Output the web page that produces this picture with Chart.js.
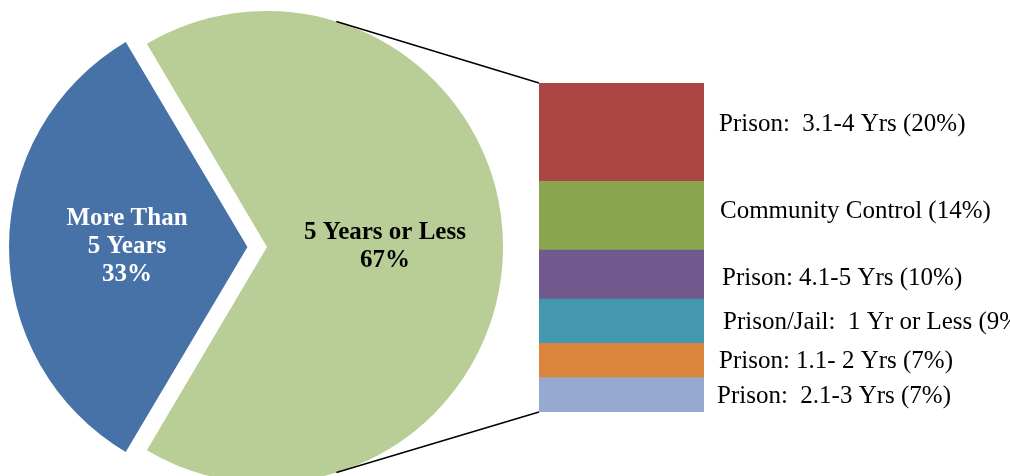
<!DOCTYPE html>
<html>
<head>
<meta charset="utf-8">
<script src="https://cdn.jsdelivr.net/npm/chart.js@4.4.1/dist/chart.umd.min.js"></script>
<style>
  html, body { margin: 0; padding: 0; background: #fff; overflow: hidden; }
  #wrap { position: relative; width: 1010px; height: 476px; overflow: hidden; }
  #pieChart, #barChart { position: absolute; left: 0; top: 0; }
</style>
</head>
<body>
<div id="wrap">
  <canvas id="pieChart" width="1010" height="494"></canvas>
  <canvas id="barChart" width="1010" height="476"></canvas>
</div>
<script>
// pie: sentence length split
const pieLabels = ['More Than 5 Years', '5 Years or Less'];
const pieLines = [['More Than', '5 Years'], ['5 Years or Less']];
const piePercents = [33, 67];
const pieColors = ['#4672A8', '#B9CD96'];

// bar: breakdown of "5 Years or Less", bottom to top
const barLabels = [
    'Prison:  2.1-3 Yrs',
    'Prison: 1.1- 2 Yrs',
    'Prison/Jail:  1 Yr or Less',
    'Prison: 4.1-5 Yrs',
    'Community Control',
    'Prison:  3.1-4 Yrs'
];
const barPercents = [7, 7, 9, 10, 14, 20];
const barColors = ['#95A9D1', '#DB843C', '#4397AF', '#71598E', '#8AA64E', '#AA4644'];

// hand nudges for the bar labels (px), same order
const labelDx = [13, 15, 19, 18, 16, 15];
const labelDy = [0, 0, 0, 2, -6, -9];

const serif = '"Liberation Serif", "Times New Roman", serif';
const barTotal = barPercents.reduce((a, b) => a + b, 0);

// Chart.js moves an arc by offset/4 * (2 - sin(circumference)), so work back from pixels
const explodePx = 22;
const blueCirc = piePercents[0] / 100 * 2 * Math.PI;
const blueOffset = explodePx * 4 / (2 - Math.sin(Math.min(Math.PI, blueCirc)));

function shiftOf(arc) {
    const off = arc.options.offset || 0;
    const circ = arc.endAngle - arc.startAngle;
    return off / 4 * (2 - Math.sin(Math.min(Math.PI, circ)));
}

const pieText = {
    id: 'pieText',
    afterDatasetsDraw(chart) {
        const ctx = chart.ctx;
        const arcs = chart.getDatasetMeta(0).data;
        ctx.save();
        ctx.font = 'bold 25px ' + serif;
        ctx.textAlign = 'center';
        ctx.textBaseline = 'middle';
        arcs.forEach((arc, i) => {
            const mid = (arc.startAngle + arc.endAngle) / 2;
            const d = shiftOf(arc) + arc.outerRadius * 0.5;
            const cx = arc.x + Math.cos(mid) * d;
            const cy = arc.y + Math.sin(mid) * d;
            const lines = pieLines[i].concat(piePercents[i] + '%');
            ctx.fillStyle = i === 0 ? '#fff' : '#000';
            lines.forEach((t, k) => {
                ctx.fillText(t, cx, cy + (k - (lines.length - 1) / 2) * 28);
            });
        });
        ctx.restore();
    }
};

const pie = new Chart(document.getElementById('pieChart'), {
    type: 'pie',
    data: {
        labels: pieLabels,
        datasets: [{
            data: piePercents,
            backgroundColor: pieColors,
            borderWidth: 0,
            offset: [blueOffset, 0]
        }]
    },
    options: {
        responsive: false,
        animation: false,
        devicePixelRatio: 1,
        events: [],
        radius: 236,
        rotation: 270 - piePercents[0] * 1.8,
        layout: { padding: { left: 0, top: 0, right: 476, bottom: 0 } },
        plugins: {
            legend: { display: false },
            tooltip: { enabled: false }
        }
    },
    plugins: [pieText]
});

const connectors = {
    id: 'connectors',
    beforeDatasetsDraw(chart) {
        const green = pie.getDatasetMeta(0).data[1];
        const R = green.outerRadius;
        const y = chart.scales.y;
        const bar = chart.getDatasetMeta(0).data[0];
        const left = bar.x - bar.width / 2;
        const a = 17.1 * Math.PI / 180;
        const ctx = chart.ctx;
        ctx.save();
        ctx.strokeStyle = '#000';
        ctx.lineWidth = 1.5;
        ctx.beginPath();
        ctx.moveTo(green.x + Math.sin(a) * R, green.y - Math.cos(a) * R);
        ctx.lineTo(left, y.getPixelForValue(barTotal));
        ctx.moveTo(green.x + Math.sin(a) * R, green.y + Math.cos(a) * R);
        ctx.lineTo(left, y.getPixelForValue(0));
        ctx.stroke();
        ctx.restore();
    }
};

const barText = {
    id: 'barText',
    afterDatasetsDraw(chart) {
        const ctx = chart.ctx;
        ctx.save();
        ctx.font = '25px ' + serif;
        ctx.fillStyle = '#000';
        ctx.textAlign = 'left';
        ctx.textBaseline = 'alphabetic';
        barLabels.forEach((label, i) => {
            const bar = chart.getDatasetMeta(i).data[0];
            const cy = (bar.y + bar.base) / 2;
            const x = bar.x + bar.width / 2 + labelDx[i];
            ctx.fillText(label + ' (' + barPercents[i] + '%)', x, cy + 8 + labelDy[i]);
        });
        ctx.restore();
    }
};

new Chart(document.getElementById('barChart'), {
    type: 'bar',
    data: {
        labels: [''],
        datasets: barLabels.map((label, i) => ({
            label: label,
            data: [barPercents[i]],
            backgroundColor: barColors[i],
            borderWidth: 0,
            categoryPercentage: 1,
            barPercentage: 1
        }))
    },
    options: {
        responsive: false,
        animation: false,
        devicePixelRatio: 1,
        events: [],
        layout: { padding: { left: 539, right: 306, top: 83, bottom: 64 } },
        scales: {
            x: { stacked: true, display: false },
            y: { stacked: true, display: false, min: 0, max: barTotal }
        },
        plugins: {
            legend: { display: false },
            tooltip: { enabled: false }
        }
    },
    plugins: [connectors, barText]
});
</script>
</body>
</html>
